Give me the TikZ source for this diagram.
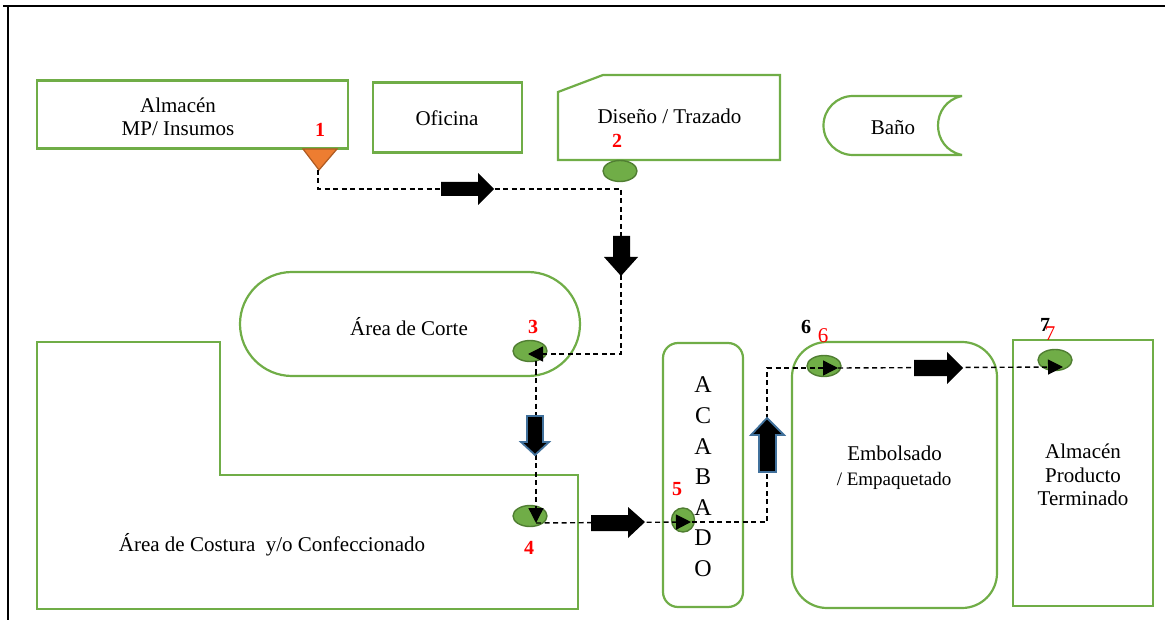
\documentclass[tikz,border=0pt]{standalone}
\usepackage{fontspec}
\setmainfont{Liberation Serif}
\usetikzlibrary{arrows.meta,shapes.misc,shapes.geometric}
\definecolor{zone}{HTML}{70AD47}
\definecolor{pointfill}{HTML}{70AD47}
\definecolor{pointedge}{HTML}{507E32}
\definecolor{startfill}{HTML}{ED7D31}
\definecolor{startedge}{HTML}{AE5A21}
\definecolor{arrowedge}{HTML}{41719C}
\begin{document}
\begin{tikzpicture}[x=1pt,y=-1pt,
  area/.style={draw=zone, line width=2.2pt, inner sep=0pt},
  label/.style={align=center, inner sep=0pt, font=\fontsize{21}{23.5}\selectfont},
  pt/.style={ellipse, draw=pointedge, fill=pointfill, line width=1.4pt,
             minimum width=34pt, minimum height=21pt, inner sep=0pt},
  num/.style={text=red, inner sep=0pt, font=\fontsize{20}{20}\selectfont\bfseries},
  numplain/.style={text=red, inner sep=0pt, font=\fontsize{21}{21}\selectfont},
  numblack/.style={text=black, inner sep=0pt, font=\fontsize{20}{20}\selectfont\bfseries},
  flow/.style={line width=1.4pt, dash pattern=on 5pt off 3.5pt},
  tip/.style={-{Triangle[length=15pt,width=15pt]}},
  blk/.style={fill=black},
  blkblue/.style={fill=black, draw=arrowedge, line width=1.8pt, line join=miter},
  frame/.style={line width=2.5pt, black}]
\useasboundingbox (0,0) rectangle (1165,620);

% outer frame (top and left edges)
\draw[frame] (3,6) -- (1165,6);
\draw[line width=2pt] (8,6) -- (8,620);

% ---- areas ----
\node[area, rectangle, minimum width=311pt, minimum height=68pt] (alm) at (192.5,114.5) {};
\node[label] (almtxt) at (178,117) {Almacén\\MP/ Insumos};

\node[area, rectangle, minimum width=149pt, minimum height=70pt] (ofi) at (447.5,117.5) {};
\node[label] (ofitxt) at (447,118) {Oficina};

\draw[area] (558,92) -- (603,75) -- (780,75) -- (780,160) -- (558,160) -- cycle;
\node[label] (distxt) at (669.5,116) {Diseño / Trazado};

\draw[area, line join=bevel] (962,96) -- (853,96)
  .. controls (836.7,96) and (823.5,109.2) .. (823.5,125.5)
  .. controls (823.5,141.8) and (836.7,155) .. (853,155) -- (962,155)
  .. controls (930,148.4) and (930,102.6) .. (962,96);
\node[label] (bantxt) at (893,128) {Baño};

\node[area, rounded rectangle, minimum width=340pt, minimum height=104pt] (corte) at (410,324) {};
\node[label] (cortetxt) at (409,327) {Área de Corte};

\draw[area] (37,342) -- (220,342) -- (220,475) -- (578,475) -- (578,609) -- (37,609) -- cycle;
\node[label] (costtxt) at (272,545) {Área de Costura\ \ y/o Confeccionado};

\node[area, rectangle, rounded corners=15pt, minimum width=80pt, minimum height=264pt] (acab) at (703,475) {};
\foreach \l/\yy [count=\i] in {A/385,C/416,A/446.5,B/477,A/507.5,D/538,O/568.5}
  \node[inner sep=0pt, font=\fontsize{24}{24}\selectfont] (acab\i) at (703,\yy) {\l};

\node[area, rectangle, rounded corners=35pt, minimum width=205pt, minimum height=266pt] (embol) at (894.5,475) {};
\node[label] (emboltxt) at (894.5,453) {Embolsado};
\node[label, font=\fontsize{19}{19}\selectfont] (empaqtxt) at (894,481) {/ Empaquetado};

\node[area, rectangle, minimum width=140pt, minimum height=266pt] (apt) at (1083,473) {};
\node[label] (apttxt) at (1083,475) {Almacén\\Producto\\Terminado};

% ---- points of the route ----
\draw[fill=startfill, draw=startedge, line width=1.2pt, line join=miter]
  (303,149) -- (337,149) -- (319,170) -- cycle;
\coordinate (t1) at (318,170);
\node[pt] (e2) at (620,171) {};
\node[pt] (e3) at (530,351) {};
\node[pt] (e4) at (530,516) {};
\node[pt, minimum width=23pt, minimum height=24pt] (e5) at (683,520) {};
\node[pt] (e6) at (824,366) {};
\node[pt] (e7) at (1055,360) {};

% step numbers
\node[num] (n1) at (320,130) {1};
\node[num] (n2) at (617,141) {2};
\node[num] (n3) at (533,327) {3};
\node[num] (n4) at (529,548) {4};
\node[num] (n5) at (677,489) {5};
\node[numblack] (n6b) at (806,327) {6};
\node[numplain] (n6) at (823,336) {6};
\node[numblack] (n7b) at (1045,325) {7};
\node[numplain] (n7) at (1050,334) {7};

% ---- route ----
\coordinate (c1) at (621,189);
\coordinate (c2) at (621,354);
\coordinate (a3) at (528,354);
\coordinate (d3) at (536,361);
\coordinate (a4) at (536,523);
\coordinate (a5) at (691,522);
\coordinate (s5) at (683,522);
\coordinate (c3) at (767,522);
\coordinate (c4) at (767,368);
\coordinate (a6) at (838,368);
\coordinate (a7) at (1063,367);
\draw[flow, tip] (t1) |- (c1) -- (c2) -- (a3);
\draw[flow, tip] (d3) -- (a4);
\draw[flow, tip] (a4) -- (a5);
\draw[flow, tip] (s5) -- (c3) -- (c4) -- (a6);
\draw[flow, tip] (a6) -- (a7);

% ---- block arrows along the route ----
\path[blk] (441,182) -- (478,182) -- (478,173) -- (494,189) -- (478,205) -- (478,196) -- (441,196) -- cycle;
\path[blk] (613,236) -- (630,236) -- (630,257) -- (638,257) -- (621,276) -- (604,257) -- (613,257) -- cycle;
\draw[blkblue] (527,416) -- (543,416) -- (543,442) -- (549,442) -- (535,455) -- (521,442) -- (527,442) -- cycle;
\path[blk] (591,515) -- (628,515) -- (628,507) -- (645,522) -- (628,538) -- (628,531) -- (591,531) -- cycle;
\draw[blkblue] (759,472) -- (776,472) -- (776,435) -- (784,435) -- (767,418) -- (751,435) -- (759,435) -- cycle;
\path[blk] (914,360) -- (947,360) -- (947,352) -- (963,368) -- (947,384) -- (947,376) -- (914,376) -- cycle;
\end{tikzpicture}
\end{document}
